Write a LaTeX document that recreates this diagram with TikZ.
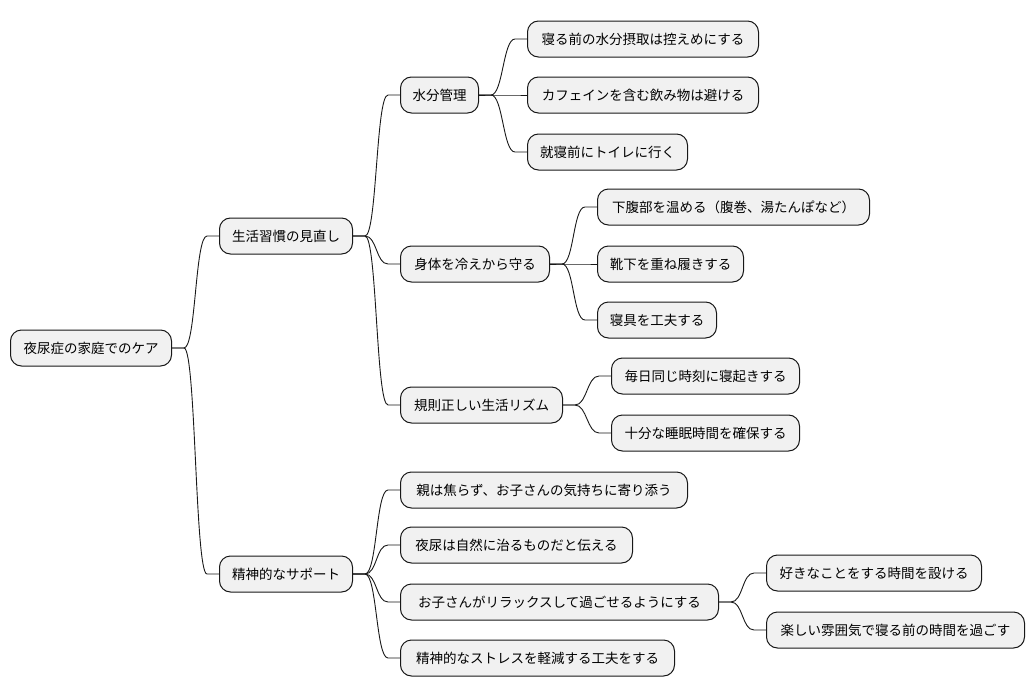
\documentclass[tikz,border=0pt]{standalone}
\usepackage{fontspec}
\setmainfont{Noto Sans CJK JP}
\usetikzlibrary{calc}
\definecolor{boxfill}{HTML}{F1F1F1}
\definecolor{boxline}{HTML}{181818}
\tikzset{
  mmbox/.style={draw=boxline, fill=boxfill, line width=1pt, rounded corners=11pt,
    anchor=west, minimum height=36pt, inner xsep=0pt, inner ysep=0pt,
    font=\fontsize{13.5pt}{16pt}\selectfont, align=center},
  link/.style={draw=boxline, line width=0.9pt}
}
\newcommand\mmconn[2]{\draw[link] (#1.east) -- ++(12pt,0) .. controls +(12pt,0) and +(-12pt,0) .. ([xshift=-12pt]#2.west) -- (#2.west);}
\begin{document}
\begin{tikzpicture}[x=1pt,y=-1pt]
\useasboundingbox (0,0) rectangle (1034,696);
\node[mmbox, minimum width=161pt] (root) at (10,348) {夜尿症の家庭でのケア};
\node[mmbox, minimum width=133pt] (a) at (219,236) {生活習慣の見直し};
\node[mmbox, minimum width=133pt] (b) at (219,574) {精神的なサポート};
\node[mmbox, minimum width=78pt] (a1) at (400,95) {水分管理};
\node[mmbox, minimum width=149pt] (a2) at (400,264) {身体を冷えから守る};
\node[mmbox, minimum width=162pt] (a3) at (400,405) {規則正しい生活リズム};
\node[mmbox, minimum width=231pt] (a11) at (527,39) {寝る前の水分摂取は控えめにする};
\node[mmbox, minimum width=231pt] (a12) at (527,95) {カフェインを含む飲み物は避ける};
\node[mmbox, minimum width=160pt] (a13) at (527,152) {就寝前にトイレに行く};
\node[mmbox, minimum width=272pt] (a21) at (597,207) {下腹部を温める（腹巻、湯たんぽなど）};
\node[mmbox, minimum width=146pt] (a22) at (597,264) {靴下を重ね履きする};
\node[mmbox, minimum width=119pt] (a23) at (597,320) {寝具を工夫する};
\node[mmbox, minimum width=188pt] (a31) at (611,376) {毎日同じ時刻に寝起きする};
\node[mmbox, minimum width=188pt] (a32) at (611,433) {十分な睡眠時間を確保する};
\node[mmbox, minimum width=287pt] (b1) at (400,490) {親は焦らず、お子さんの気持ちに寄り添う};
\node[mmbox, minimum width=232pt] (b2) at (400,545) {夜尿は自然に治るものだと伝える};
\node[mmbox, minimum width=318pt] (b3) at (400,602) {お子さんがリラックスして過ごせるようにする};
\node[mmbox, minimum width=274pt] (b4) at (400,658) {精神的なストレスを軽減する工夫をする};
\node[mmbox, minimum width=215pt] (b31) at (766,573) {好きなことをする時間を設ける};
\node[mmbox, minimum width=258pt] (b32) at (766,630) {楽しい雰囲気で寝る前の時間を過ごす};
\mmconn{root}{a}
\mmconn{root}{b}
\mmconn{a}{a1}
\mmconn{a}{a2}
\mmconn{a}{a3}
\mmconn{a1}{a11}
\mmconn{a1}{a12}
\mmconn{a1}{a13}
\mmconn{a2}{a21}
\mmconn{a2}{a22}
\mmconn{a2}{a23}
\mmconn{a3}{a31}
\mmconn{a3}{a32}
\mmconn{b}{b1}
\mmconn{b}{b2}
\mmconn{b}{b3}
\mmconn{b}{b4}
\mmconn{b3}{b31}
\mmconn{b3}{b32}
\end{tikzpicture}
\end{document}
